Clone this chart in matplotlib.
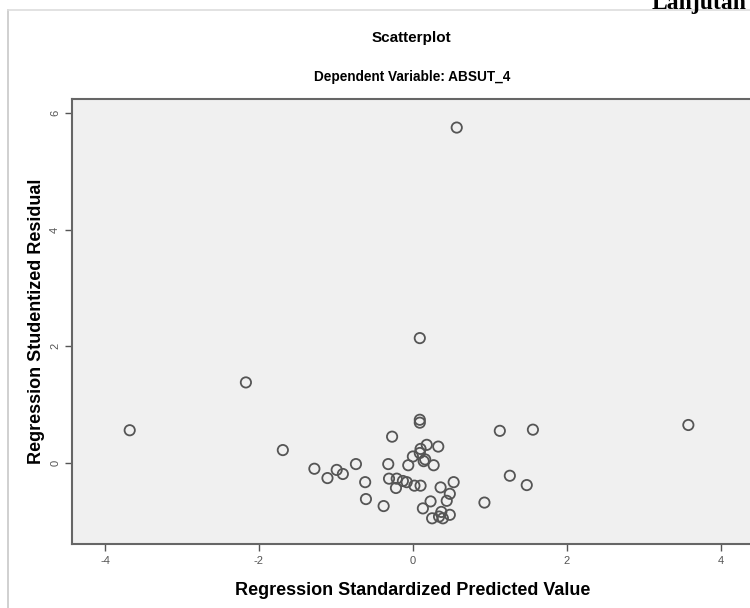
import matplotlib
matplotlib.use("Agg")
import matplotlib.pyplot as plt
from matplotlib.lines import Line2D

# predicted (standardized) vs studentized residual
pred = [0.57, 0.09, -2.17, -3.68, 3.58, 1.13, 1.56, 0.09, 0.09, -0.27,
        -1.69, 0.18, 0.33, 0.10, 0.09, 0.00, 0.16, 0.14, 0.27, -0.06,
        -0.74, -0.32, -1.28, -0.99, -0.91, -1.11, 1.26, 1.48, -0.62, -0.31,
        -0.21, -0.13, -0.08, -0.22, 0.02, 0.10, 0.36, 0.53, 0.48, -0.61,
        -0.38, 0.23, 0.44, 0.93, 0.13, 0.25, 0.37, 0.34, 0.48, 0.39]
resid = [5.75, 2.14, 1.38, 0.56, 0.65, 0.55, 0.57, 0.74, 0.69, 0.45,
         0.22, 0.31, 0.28, 0.24, 0.17, 0.11, 0.06, 0.03, -0.04, -0.04,
         -0.02, -0.02, -0.10, -0.12, -0.19, -0.26, -0.22, -0.38, -0.33, -0.27,
         -0.27, -0.31, -0.33, -0.43, -0.39, -0.39, -0.42, -0.33, -0.53, -0.62,
         -0.74, -0.66, -0.65, -0.68, -0.78, -0.95, -0.84, -0.92, -0.89, -0.95]
xticks = [-4, -2, 0, 2, 4]
yticks = [0, 2, 4, 6]

plt.rcParams['font.family'] = ['Liberation Sans', 'DejaVu Sans']
plt.rcParams['axes.unicode_minus'] = False

fig = plt.figure(figsize=(7.5, 6.08), dpi=100)
fig.patch.set_facecolor('white')

# axes runs a bit past the right edge, like the cropped screenshot
ax = fig.add_axes([0.096, 0.1053, 0.909, 0.7319])
ax.set_facecolor('#f0f0f0')
ax.scatter(pred, resid, s=55, facecolors='none', edgecolors='#555555', linewidths=1.3)

ax.set_xlim(-4.43, 4.43)
ax.set_ylim(-1.39, 6.24)
ax.set_xticks(xticks)
ax.set_yticks(yticks)
ax.tick_params(length=5, width=1, color='#555555', labelsize=8, labelcolor='#555555')
plt.setp(ax.get_yticklabels(), rotation=90, va='center')
for s in ax.spines.values():
    s.set_color('#666666')
    s.set_linewidth(1.5)

ax.set_xlabel('Regression Standardized Predicted Value', fontsize=13, fontweight='bold', labelpad=12)
ax.set_ylabel('Regression Studentized Residual', fontsize=13, fontweight='bold', labelpad=4)

fig.text(0.549, 1 - 38 / 608, 'Scatterplot', ha='center', va='center', fontsize=11, fontweight='bold')
fig.text(0.549, 1 - 77 / 608, 'Dependent Variable: ABSUT_4', ha='center', va='center',
         fontsize=9.8, fontweight='bold')

# page text cut off at top, and the screenshot frame
fig.text(652 / 750, 1 - 9 / 608, 'Lanjutan', ha='left', va='baseline', fontsize=17,
         fontweight='bold', family='Liberation Serif')
fig.add_artist(Line2D([8 / 750, 8 / 750], [0, 1 - 10 / 608], color='#c8c8c8', lw=1.2))
fig.add_artist(Line2D([8 / 750, 1], [1 - 10 / 608, 1 - 10 / 608], color='#dddddd', lw=1.2))

fig.savefig('out.png', dpi=100)
